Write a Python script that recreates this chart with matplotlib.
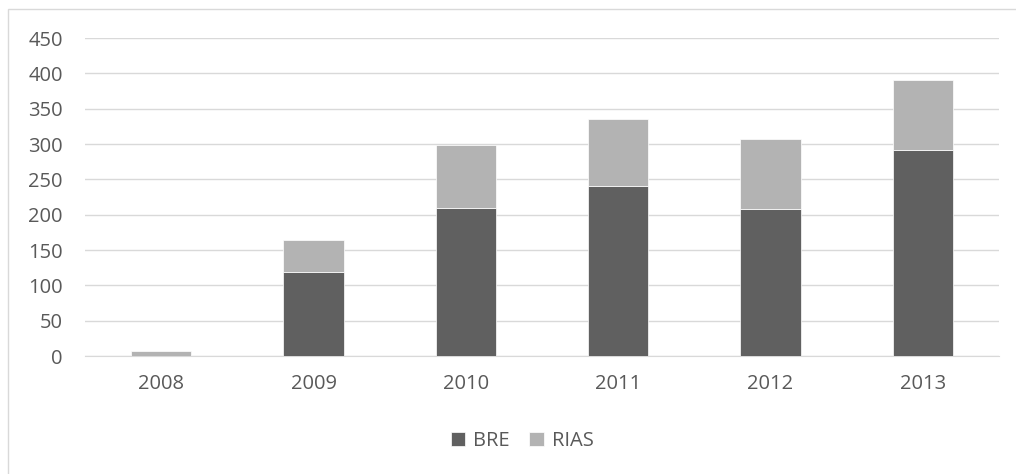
import matplotlib
matplotlib.use("Agg")
import matplotlib.pyplot as plt
from matplotlib.patches import Rectangle

years = ["2008", "2009", "2010", "2011", "2012", "2013"]
bre = [0, 119, 210, 241, 208, 292]
rias = [7, 45, 88, 94, 99, 99]

plt.rcParams['font.family'] = ['Open Sans', 'DejaVu Sans']
text_color = "#595959"
fs = 14.5

fig = plt.figure(figsize=(10.16, 4.74), dpi=100)
ax = fig.add_axes([85/1016, 1-356/474, (999-85)/1016, (356-38)/474])

x = list(range(len(years)))
w = 0.395
ax.bar(x, bre, w, color="#606060", label="BRE", edgecolor="white", linewidth=0.5, zorder=3)
ax.bar(x, rias, w, bottom=bre, color="#b3b3b3", label="RIAS", edgecolor="white", linewidth=0.5, zorder=3)

ax.set_xlim(-0.5, len(years)-0.5)
ax.set_ylim(0, 450)
ax.set_yticks(range(0, 451, 50))
ax.set_xticks(x)
ax.set_xticklabels(years)
ax.grid(axis="y", color="#d9d9d9", linewidth=1, zorder=0)
for s in ["top", "right", "left"]:
    ax.spines[s].set_visible(False)
ax.spines["bottom"].set_color("#d9d9d9")
ax.tick_params(axis="both", length=0, labelsize=fs, colors=text_color)
ax.tick_params(axis="x", pad=13)
ax.tick_params(axis="y", pad=16)

leg = fig.legend(loc="center", bbox_to_anchor=(522/1016, 1-441/474), ncol=2, frameon=False,
                 fontsize=fs, handlelength=0.7, handleheight=0.7, handletextpad=0.4,
                 columnspacing=1.0, labelcolor=text_color)

fig.patches.append(Rectangle((8/1016, -0.1), 1.2, 1.1 - 9/474, transform=fig.transFigure,
                             fill=False, edgecolor="#d9d9d9", linewidth=1))

fig.savefig("out.png", dpi=100, facecolor="white")
